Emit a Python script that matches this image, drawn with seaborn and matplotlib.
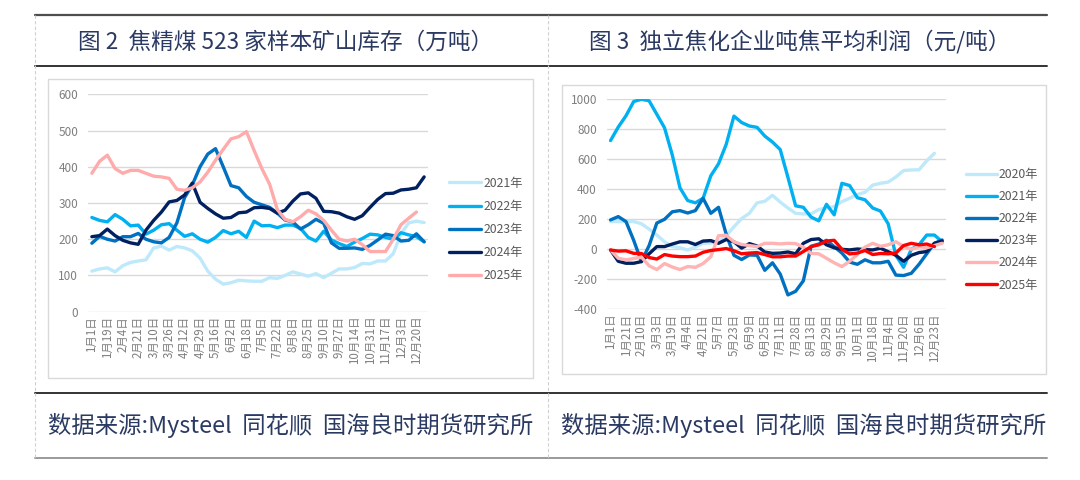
import numpy as np
import matplotlib
matplotlib.use("Agg")
import matplotlib.pyplot as plt
from matplotlib.lines import Line2D
from matplotlib.patches import Rectangle
import seaborn as sns

# ---- 图2 焦精煤523家样本矿山库存（万吨）----
stock_dates = ["1月1日", "1月19日", "2月4日", "2月21日", "3月10日", "3月26日", "4月12日",
               "4月29日", "5月16日", "6月2日", "6月18日", "7月5日", "7月22日", "8月8日",
               "8月25日", "9月10日", "9月27日", "10月14日", "10月31日", "11月17日",
               "12月3日", "12月20日"]
stock_2021 = [112, 118, 121, 110, 127, 136, 140, 143, 176, 181, 170, 180, 176, 168, 148,
              112, 90, 76, 80, 87, 85, 84, 84, 94, 92, 100, 110, 104, 98, 105, 94, 106,
              118, 118, 122, 133, 132, 140, 140, 160, 215, 245, 250, 246]
stock_2022 = [260, 252, 248, 268, 255, 237, 239, 214, 225, 240, 243, 225, 208, 215, 200,
              192, 205, 224, 215, 222, 205, 250, 237, 238, 232, 239, 239, 230, 205, 195,
              222, 198, 188, 180, 192, 202, 214, 212, 205, 200, 218, 212, 207, 193]
stock_2023 = [189, 208, 200, 195, 207, 207, 216, 200, 193, 190, 205, 245, 315, 350, 400,
              435, 450, 400, 348, 342, 318, 302, 295, 288, 272, 253, 248, 228, 240, 255,
              244, 190, 175, 175, 176, 172, 183, 198, 214, 210, 195, 197, 215, 193]
stock_2024 = [207, 210, 228, 210, 197, 190, 186, 225, 252, 275, 303, 307, 322, 355, 302,
              285, 270, 258, 260, 273, 275, 287, 288, 285, 272, 280, 305, 325, 328, 313,
              277, 276, 272, 262, 255, 265, 288, 310, 326, 327, 336, 338, 342, 372]
stock_2025 = [382, 415, 432, 395, 382, 390, 390, 382, 374, 372, 368, 338, 335, 342, 358,
              385, 418, 448, 477, 483, 497, 445, 395, 352, 282, 255, 248, 262, 280, 270,
              252, 225, 200, 195, 200, 185, 166, 166, 166, 200, 240, 258, 275, None]

# ---- 图3 独立焦化企业吨焦平均利润（元/吨）----
profit_dates = ["1月1日", "1月21日", "2月10日", "3月3日", "3月19日", "4月4日", "4月21日",
                "5月7日", "5月23日", "6月9日", "6月25日", "7月11日", "7月28日", "8月13日",
                "8月29日", "9月15日", "10月1日", "10月18日", "11月4日", "11月20日",
                "12月6日", "12月23日"]
profit_2020 = [185, 185, 185, 185, 170, 135, 95, 50, 18, 10, -5, 15, 40, 42, 52, 90, 150,
               205, 240, 310, 320, 360, 315, 275, 240, 236, 236, 265, 275, 285, 318, 340,
               365, 380, 428, 440, 448, 482, 525, 529, 530, 590, 640, None]
profit_2021 = [725, 815, 890, 985, 1000, 990, 900, 810, 630, 410, 325, 310, 340, 490, 570,
               700, 888, 845, 822, 813, 755, 715, 665, 480, 290, 280, 215, 190, 300, 230,
               440, 425, 344, 330, 275, 255, 170, -40, -120, 0, 30, 95, 95, 50]
profit_2022 = [196, 218, 185, 60, -82, 25, 175, 200, 250, 258, 242, 258, 340, 240, 280,
               100, -40, -68, -38, -40, -140, -90, -165, -304, -280, -210, 20, 35, 60, 18,
               -25, -85, -100, -70, -90, -90, -80, -172, -175, -160, -100, -30, 40, 62]
profit_2023 = [-5, -80, -93, -93, -82, -30, 18, 18, 35, 50, 50, 32, 55, 58, 40, 65, 50, 8,
               38, 22, -18, -27, -25, -18, -30, 40, 65, 70, 30, 10, 0, -4, 2, -2, -4, 7,
               -16, -40, -80, -40, -22, -15, 40, 55]
profit_2024 = [-5, -60, -70, -62, -52, -110, -135, -95, -118, -135, -115, -120, -95, -50,
               90, 94, 50, 32, 25, 18, 40, 40, 36, 40, 38, 15, -27, -30, -60, -90, -115,
               -80, -35, 15, 40, 20, 30, 50, 20, 0, 18, 10, 25, 40]
profit_2025 = [-5, -12, -10, -27, -28, -55, -65, -35, -45, -49, -49, -45, -20, -8, -2, 5,
               -10, -30, -25, -22, -35, -50, -50, -45, -45, -15, 18, 30, 55, 60, 0, -31,
               -25, -8, -35, -28, -30, -25, 25, 40, 30, 35, 18, None]

TEXT_COLOR = "#2B3A63"
TICK_COLOR = "#7F7F7F"
GRID_COLOR = "#D9D9D9"

sns.set_theme(style="white")
plt.rcParams["font.family"] = ["Noto Sans CJK SC", "DejaVu Sans"]
plt.rcParams["axes.unicode_minus"] = False


def draw_panel(ax, series, names, colors, dates, ylim, ystep):
    for vals, name, col in zip(series, names, colors):
        y = np.array([np.nan if v is None else v for v in vals], dtype=float)
        sns.lineplot(x=np.arange(len(y)), y=y, ax=ax, color=col, linewidth=2.4,
                     label=name)
    n = len(series[0])
    ax.set_xlim(-0.5, n - 0.5)
    ax.set_ylim(*ylim)
    ax.set_yticks(np.arange(ylim[0], ylim[1] + 1, ystep))
    ax.set_xticks(np.arange(0, 2 * len(dates), 2))
    ax.set_xticklabels(dates, rotation=90)
    ax.tick_params(axis="x", length=0, labelsize=8.3, colors=TICK_COLOR, pad=3)
    ax.tick_params(axis="y", length=0, labelsize=8.5, colors=TICK_COLOR, pad=7)
    ax.grid(axis="y", color=GRID_COLOR, linewidth=1.0)
    ax.set_axisbelow(True)
    for s in ax.spines.values():
        s.set_visible(False)
    ax.set_xlabel("")
    ax.set_ylabel("")
    ax.patch.set_alpha(0)


fig = plt.figure(figsize=(10.8, 4.8), dpi=100)
W, H = 1080.0, 480.0


def fx(px):
    return px / W


def fy(py):
    return 1 - py / H


# table frame
for y, col, lw in [(15, "#4D4D4D", 1.6), (66, "#333333", 1.4), (393, "#333333", 1.4),
                   (458, "#9A9A9A", 1.4)]:
    fig.add_artist(Line2D([fx(35), fx(1047)], [fy(y), fy(y)], color=col, lw=lw))
for x in [35, 548]:
    fig.add_artist(Line2D([fx(x), fx(x)], [fy(15), fy(458)], color="#D0D0D0", lw=0.8,
                          linestyle=(0, (3, 2))))

# chart boxes
fig.add_artist(Rectangle((fx(48), fy(378)), fx(533) - fx(48), fy(79) - fy(378),
                         transform=fig.transFigure, fill=False, edgecolor="#D9D9D9", lw=1))
fig.add_artist(Rectangle((fx(562), fy(374)), fx(1046) - fx(562), fy(85) - fy(374),
                         transform=fig.transFigure, fill=False, edgecolor="#D9D9D9", lw=1))

# titles and source lines
fig.text(fx(286), fy(42), "图 2  焦精煤 523 家样本矿山库存（万吨）", ha="center", va="center",
         fontsize=16.3, color=TEXT_COLOR)
fig.text(fx(800), fy(42), "图 3  独立焦化企业吨焦平均利润（元/吨）", ha="center", va="center",
         fontsize=16.3, color=TEXT_COLOR)
source = "数据来源:Mysteel  同花顺  国海良时期货研究所"
fig.text(fx(291), fy(425), source, ha="center", va="center", fontsize=16.8, color=TEXT_COLOR)
fig.text(fx(804), fy(425), source, ha="center", va="center", fontsize=16.8, color=TEXT_COLOR)

# left chart
ax1 = fig.add_axes([fx(88), fy(311.7), (428 - 88) / W, (311.7 - 94.3) / H])
draw_panel(ax1, [stock_2021, stock_2022, stock_2023, stock_2024, stock_2025],
           ["2021年", "2022年", "2023年", "2024年", "2025年"],
           ["#BDE9FB", "#00B0F0", "#0070C0", "#002060", "#FFABAB"],
           stock_dates, (0, 600), 100)
ax1.legend(loc="center left", bbox_to_anchor=(fx(449), fy(229.3)),
           bbox_transform=fig.transFigure, frameon=False, fontsize=8.8,
           handlelength=2.6, handletextpad=0.2, labelspacing=0.82, borderpad=0,
           borderaxespad=0, labelcolor="#595959")

# right chart
ax2 = fig.add_axes([fx(606.7), fy(309.3), (946 - 606.7) / W, (309.3 - 99.3) / H])
draw_panel(ax2, [profit_2020, profit_2021, profit_2022, profit_2023, profit_2024, profit_2025],
           ["2020年", "2021年", "2022年", "2023年", "2024年", "2025年"],
           ["#BDE9FB", "#00B0F0", "#0070C0", "#002060", "#FFB3B3", "#FF0000"],
           profit_dates, (-400, 1000), 200)
ax2.legend(loc="center left", bbox_to_anchor=(fx(966), fy(229.7)),
           bbox_transform=fig.transFigure, frameon=False, fontsize=8.8,
           handlelength=2.5, handletextpad=0.2, labelspacing=0.75, borderpad=0,
           borderaxespad=0, labelcolor="#595959")

fig.savefig("out.png", dpi=100)
